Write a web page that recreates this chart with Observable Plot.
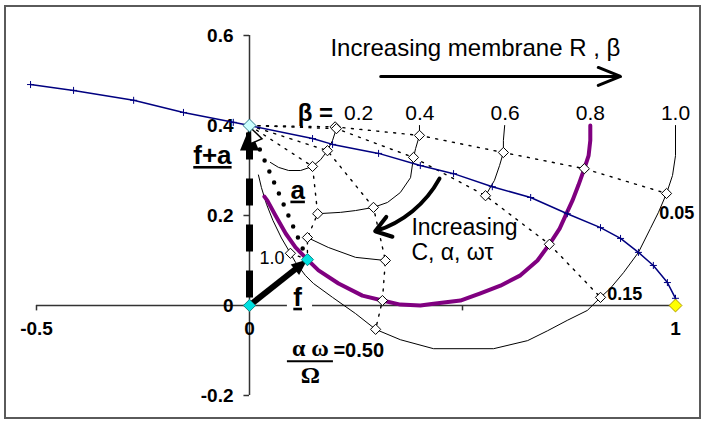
<!DOCTYPE html>
<html><head><meta charset="utf-8">
<script src="https://cdn.jsdelivr.net/npm/d3@7"></script>
<script src="https://cdn.jsdelivr.net/npm/@observablehq/plot@0.6"></script>
<style>
body{margin:0;background:#fff;}
#wrap{position:relative;width:704px;height:422px;overflow:hidden;}
#wrap svg{position:absolute;left:0;top:0;}
#frame{position:absolute;left:4px;top:5px;width:693px;height:410px;border:2px solid #5a5a5a;pointer-events:none;}
</style></head><body><div id="wrap"><div id="frame"></div></div>
<script>
// ---- data ----
const xTicks = [-0.5, 0, 0.5, 1];
const xTickLabels = [[-0.5, "-0.5"], [0, "0"], [1, "1"]];
const yTicks = [0.6, 0.4, 0.2, 0, -0.2];
const yTickLabels = ["0.6", "0.4", "0.2", "0", "-0.2"];
const betaValues = [0.2, 0.4, 0.6, 0.8, 1.0];
const betaLabels = ["0.2", "0.4", "0.6", "0.8", "1.0"];

const origin = [0, 0];
const fTip = [0.136, 0.102];      // f  (beta = 0.8, alpha*omega/Omega = 1.0)
const fPlusA = [0, 0.4];          // f + a
const unitPoint = [1, 0];

const blueLocus = [[-0.514,0.491],[-0.413,0.478],[-0.272,0.456],[-0.155,0.429],[-0.038,0.407],[0,0.4],
  [0.148,0.371],[0.195,0.358],[0.303,0.338],[0.401,0.311],[0.479,0.293],[0.570,0.264],[0.660,0.240],
  [0.746,0.204],[0.824,0.173],[0.871,0.149],[0.913,0.118],[0.948,0.089],[0.981,0.051],[1.0,0.016],[1.0,0]];

const beta02 = [[0.200,0.400],[0.204,0.393],[0.195,0.367],[0.183,0.344],[0.167,0.324],[0.148,0.309],
  [0.120,0.300],[0.092,0.300],[0.068,0.307],[0.049,0.318]];
const beta04 = [[0.399,0.400],[0.399,0.378],[0.390,0.349],[0.385,0.329],[0.378,0.284],[0.354,0.251],
  [0.324,0.229],[0.291,0.218],[0.249,0.211],[0.214,0.207],[0.160,0.204]];
const beta06Upper = [[0.599,0.400],[0.596,0.367],[0.596,0.340],[0.587,0.311],[0.575,0.278],[0.554,0.244]];
const beta06Lower = [[0.319,0.100],[0.249,0.107],[0.185,0.129],[0.136,0.151]];
const beta08 = [[0.800,0.400],[0.800,0.367],[0.796,0.333],[0.786,0.304],[0.772,0.267],[0.758,0.233],
  [0.744,0.204],[0.728,0.171],[0.704,0.136],[0.676,0.100],[0.636,0.067],[0.589,0.044],[0.542,0.027],
  [0.495,0.011],[0.432,0.004],[0.401,0.000],[0.354,0.002],[0.312,0.011],[0.265,0.022],[0.209,0.049],
  [0.162,0.078],[0.136,0.102],[0.108,0.129],[0.085,0.160],[0.061,0.200],[0.042,0.233],[0.035,0.242]];
const beta10 = [[1.000,0.400],[1.000,0.333],[0.993,0.289],[0.979,0.249],[0.960,0.207],[0.941,0.171],
  [0.913,0.118],[0.878,0.073],[0.847,0.038],[0.824,0.018],[0.793,-0.011],[0.746,-0.033],[0.700,-0.056],
  [0.653,-0.078],[0.573,-0.096],[0.432,-0.096],[0.354,-0.076],[0.296,-0.053],[0.249,-0.018],
  [0.195,0.018],[0.150,0.049],[0.131,0.067],[0.108,0.096],[0.096,0.116],[0.075,0.150],[0.055,0.189],
  [0.040,0.225],[0.028,0.262],[0.021,0.290]];

// constant alpha*omega/Omega lines (beta = 0 ... 1.0)
const s005 = [[0,0.4],[0.201,0.397],[0.399,0.378],[0.596,0.340],[0.786,0.304],[0.979,0.249]];
const s015 = [[0,0.4],[0.204,0.393],[0.385,0.329],[0.554,0.244],[0.704,0.136],[0.824,0.018]];
const s050 = [[0,0.4],[0.183,0.344],[0.291,0.218],[0.319,0.100],[0.312,0.011],[0.296,-0.053]];
const s100 = [[0,0.4],[0.148,0.309],[0.160,0.204],[0.136,0.151],fTip,[0.096,0.116]];

const membraneArrow = [[0.308,0.509],[0.871,0.509]];
const increasingCArrow = [[0.446,0.282],[0.295,0.165]];

// ---- helpers ----
const xy = {x: d => d[0], y: d => d[1]};
const seg = {x1: d => d[0][0], y1: d => d[0][1], x2: d => d[1][0], y2: d => d[1][1]};
const lerp = (a, b, t) => [a[0] + (b[0] - a[0]) * t, a[1] + (b[1] - a[1]) * t];
const headSym = {draw(ctx, size) { const r = Math.sqrt(size / Math.PI);
  ctx.moveTo(0, 0); ctx.lineTo(-0.95 * r, 2.3 * r); ctx.lineTo(0.95 * r, 2.3 * r); ctx.closePath(); }};
const SANS = "Arial, 'Liberation Sans', sans-serif";
const SERIF = "'Times New Roman', 'Liberation Serif', serif";
const label = (x, y, text, o = {}) => Plot.text([{x, y, text}],
  {x: "x", y: "y", text: "text", fill: "black", lineAnchor: "middle", fontFamily: SANS, ...o});

const whiteDiamonds = [...s005.slice(1), ...s015.slice(1), ...s050.slice(1), ...s100.slice(1).filter(p => p !== fTip)];

const chart = Plot.plot({
  width: 704, height: 422,
  marginLeft: 36, marginRight: 29, marginTop: 35, marginBottom: 27,
  x: {domain: [-0.5, 1], axis: null},
  y: {domain: [-0.2, 0.6], axis: null},
  style: {background: "transparent", fontFamily: SANS, overflow: "visible"},
  marks: [
    // axes
    Plot.ruleY([0], {x1: -0.5, x2: 1, stroke: "#333", strokeWidth: 1.5}),
    Plot.ruleX([0], {y1: -0.2, y2: 0.6, stroke: "#333", strokeWidth: 1.5}),
    Plot.ruleX(xTicks, {x: d => d, y1: 0, y2: -0.012, stroke: "#333", strokeWidth: 1.5}),
    Plot.ruleY(yTicks, {y: d => d, x1: -0.013, x2: 0, stroke: "#333", strokeWidth: 1.5}),
    Plot.text(xTickLabels, {x: d => d[0], y: 0, dy: 23, text: d => d[1], fontSize: 19, fontWeight: "bold", fill: "black", lineAnchor: "middle"}),
    Plot.text(yTicks, {x: 0, y: d => d, dx: -16, text: (d, i) => yTickLabels[i], textAnchor: "end", fontSize: 19, fontWeight: "bold", fill: "black", lineAnchor: "middle"}),
    // constant alpha*omega/Omega dotted lines
    ...[s005, s015, s050, s100].map(s => Plot.line(s, {...xy, stroke: "black", strokeWidth: 1.4, strokeDasharray: "2,6.5"})),
    // beta curves
    ...[beta02, beta04, beta06Upper, beta06Lower, beta10].map(b => Plot.line(b, {...xy, stroke: "black", strokeWidth: 1})),
    Plot.line(beta08, {...xy, stroke: "#800080", strokeWidth: 4, strokeLinejoin: "round"}),
    // blue locus
    Plot.line(blueLocus, {...xy, stroke: "#000080", strokeWidth: 1.5}),
    Plot.dot(blueLocus, {...xy, symbol: "plus", r: 2.4, stroke: "#000080", strokeWidth: 1}),
    // diamonds
    Plot.dot(whiteDiamonds, {...xy, symbol: "diamond2", r: 4.6, fill: "white", stroke: "black", strokeWidth: 1}),
    // "f" label background over axis
    Plot.rect([0], {x1: 0.089, x2: 0.148, y1: -0.018, y2: 0.033, fill: "white"}),
    // f + a (dashed) arrow
    Plot.link([[origin, fPlusA]], {...seg, stroke: "black", strokeWidth: 7, strokeDasharray: "27,19", strokeDashoffset: 38}),
    Plot.dot([fPlusA], {...xy, symbol: headSym, r: 10, fill: "black", stroke: "none", dy: 2}),
    // f arrow
    Plot.link([[origin, lerp(origin, fTip, 0.85)]], {...seg, stroke: "black", strokeWidth: 6}),
    Plot.dot([fTip], {...xy, symbol: headSym, r: 7, fill: "black", stroke: "none", rotate: 51}),
    // a arrow (dotted)
    Plot.link([[fTip, lerp(fTip, fPlusA, 0.88)]], {...seg, stroke: "black", strokeWidth: 4.5, strokeDasharray: "0,12", strokeLinecap: "round"}),
    Plot.dot([lerp(fTip, fPlusA, 0.985)], {...xy, symbol: headSym, r: 6.5, fill: "white", stroke: "black", strokeWidth: 1.5, rotate: -23.5}),
    // special points
    Plot.dot([origin, fTip], {...xy, symbol: "diamond2", r: 5.5, fill: "#00e0e0", stroke: "#118888", strokeWidth: 1}),
    Plot.dot([fPlusA], {...xy, symbol: "diamond2", r: 5.8, fill: "#ccffff", stroke: "#337f8f", strokeWidth: 1}),
    Plot.dot([unitPoint], {...xy, symbol: "diamond2", r: 5.8, fill: "#ffff00", stroke: "#b09a00", strokeWidth: 1}),
    // annotation arrows
    Plot.arrow([membraneArrow], {...seg, stroke: "black", strokeWidth: 3, headLength: 12, headAngle: 44}),
    Plot.arrow([increasingCArrow], {...seg, stroke: "black", strokeWidth: 4, bend: 22, headLength: 6.8, headAngle: 70}),
    // texts
    label(0.190, 0.571, "Increasing membrane R , β", {textAnchor: "start", fontSize: 24}),
    label(0.113, 0.427, "β =", {textAnchor: "start", fontSize: 24, fontWeight: "bold"}),
    Plot.text(betaValues.slice(1), {x: d => d, y: 0.427, text: (d, i) => betaLabels[i + 1], fontSize: 21, fill: "black", lineAnchor: "middle"}),
    Plot.text(betaValues.slice(0, 1), {x: d => d, y: 0.427, dx: 24, text: (d, i) => betaLabels[i], fontSize: 21, fill: "black", lineAnchor: "middle"}),
    label(-0.087, 0.333, "f+a", {fontSize: 26, fontWeight: "bold"}),
    label(0.113, 0.256, "a", {fontSize: 26, fontWeight: "bold"}),
    label(0.113, 0.018, "f", {fontSize: 26, fontWeight: "bold"}),
    label(0.082, 0.104, "1.0", {textAnchor: "end", fontSize: 18}),
    label(0.962, 0.204, "0.05", {textAnchor: "start", fontSize: 18, fontWeight: "bold"}),
    label(0.840, 0.024, "0.15", {textAnchor: "start", fontSize: 18, fontWeight: "bold"}),
    label(0.197, -0.100, "=0.50", {textAnchor: "start", fontSize: 20, fontWeight: "bold"}),
    label(0.143, -0.096, "α ω", {fontSize: 24, fontWeight: "bold", fontFamily: SERIF}),
    Plot.ruleY([-0.124], {x1: 0.089, x2: 0.197, stroke: "black", strokeWidth: 2}),
    label(0.143, -0.156, "Ω", {fontSize: 24, fontWeight: "bold", fontFamily: SERIF}),
    label(0.380, 0.174, "Increasing", {textAnchor: "start", fontSize: 23}),
    label(0.380, 0.117, "C, α, ωτ", {textAnchor: "start", fontSize: 23})
  ]
});
chart.querySelectorAll("text").forEach(t => {
  if (["f+a", "a", "f"].includes(t.textContent)) t.style.textDecoration = "underline";
});
document.getElementById("wrap").prepend(chart);
</script></body></html>
